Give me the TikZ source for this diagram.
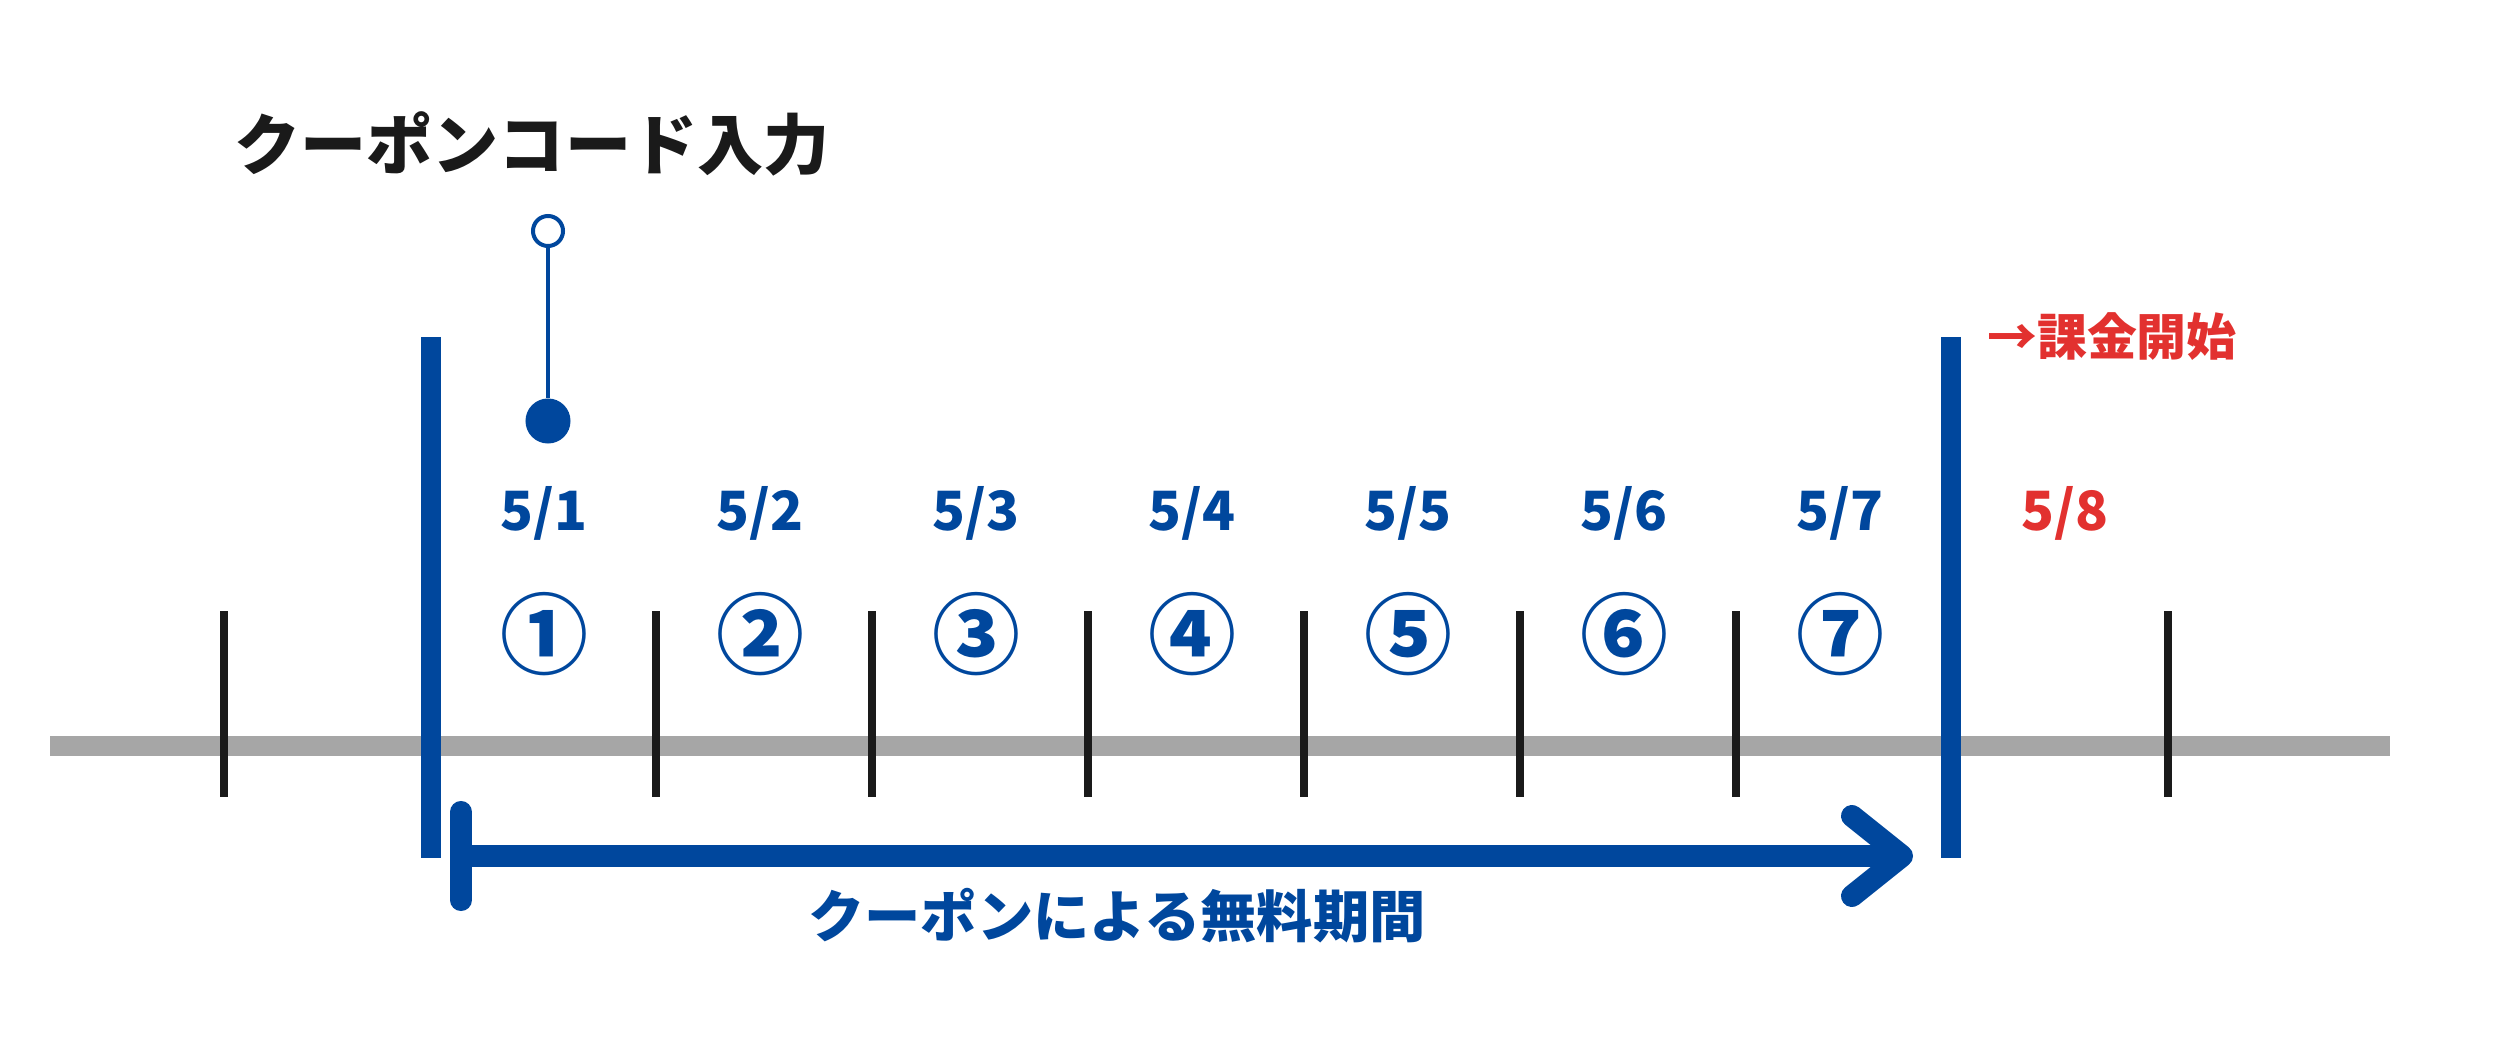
\documentclass[tikz,border=0pt]{standalone}
\usepackage{fontspec}
\setmainfont{Noto Sans CJK JP}
\usetikzlibrary{arrows.meta}
\definecolor{planblue}{HTML}{00479D}
\definecolor{chargered}{HTML}{E2312F}
\definecolor{inkblack}{HTML}{1A1A1A}
\definecolor{axisgray}{HTML}{A6A6A6}

\begin{document}
\begin{tikzpicture}[x=0.01cm,y=-0.01cm]
\tikzstyle{every node}=[inner sep=0pt,outer sep=0pt]
\tikzstyle{datelabel}=[text=planblue,anchor=base,font=\fontsize{15.4}{16}\selectfont\bfseries]
\tikzstyle{daynum}=[text=planblue,font=\fontsize{25}{26}\selectfont\bfseries]
\tikzstyle{daytick}=[draw=inkblack,line width=0.8mm]
\tikzstyle{limitbar}=[draw=planblue,line width=2mm]
\useasboundingbox (0,0) rectangle (2500,1064);
% time axis
\draw[axisgray,line width=1.9mm] (50,746) -- (2390,746);
\foreach \k in {0,2,3,4,5,6,7,9}
  \draw[daytick] (224+216*\k,611) -- (224+216*\k,797);
\draw[limitbar] (431,337) -- (431,858);
\draw[limitbar] (1951,337) -- (1951,858);
% days
\foreach \d/\c in {1/①,2/②,3/③,4/④,5/⑤,6/⑥,7/⑦}{
  \node[datelabel] (date\d) at (328+216*\d,531) {5/\d};
  \node[daynum] (num\d) at (328+216*\d,634) {\c};
}
\node[datelabel,text=chargered] (date8) at (2065,531) {5/8};
% coupon entry
\node[text=inkblack,font=\fontsize{18.8}{20}\selectfont\bfseries] (title) at (532,144) {クーポンコード入力};
\node[circle,draw=planblue,line width=0.4mm,fill=white,minimum size=3mm] (pin-top) at (548,231) {};
\node[circle,fill=planblue,minimum size=4.5mm] (pin-dot) at (548,421) {};
\draw[planblue,line width=0.4mm] (pin-top) -- (pin-dot);
\node[text=chargered,font=\fontsize{14.2}{15}\selectfont\bfseries] (charge) at (2112,337) {→課金開始};
% free period
\coordinate (free-start) at (450,856);
\coordinate (free-end) at (1913,856);
\draw[planblue,line width=2.2mm,{Bar[width=8.8mm,round]}-{Straight Barb[length=5mm,width=8mm,round]}] (free-start) -- (free-end);
\node[text=planblue,font=\fontsize{16}{17}\selectfont\bfseries] (period) at (1117,916) {クーポンによる無料期間};
\end{tikzpicture}
\end{document}
